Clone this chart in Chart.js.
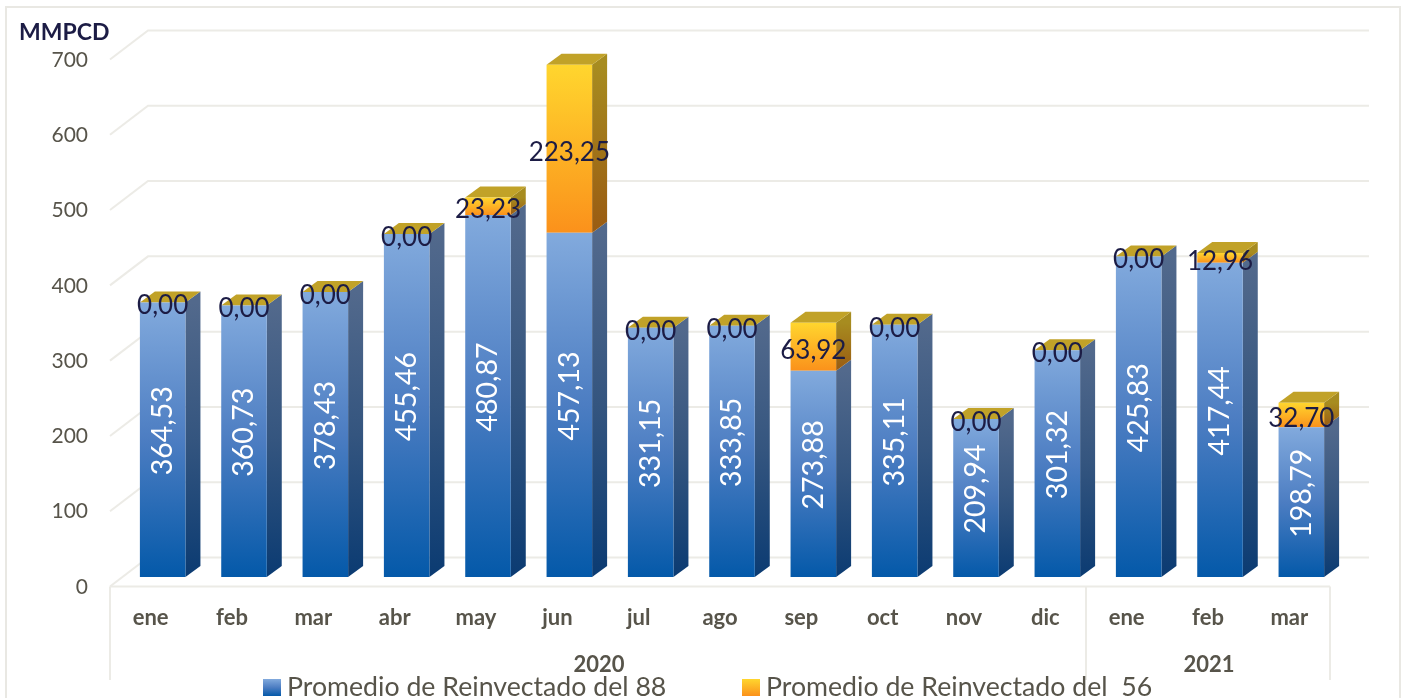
<!DOCTYPE html>
<html>
<head>
<meta charset="utf-8">
<style>html,body{margin:0;padding:0;background:#fff;overflow:hidden}canvas{display:block}</style>
<script src="https://cdn.jsdelivr.net/npm/chart.js@4"></script>
</head>
<body>
<canvas id="c" width="1405" height="698"></canvas>
<script>
const months = ['ene','feb','mar','abr','may','jun','jul','ago','sep','oct','nov','dic','ene','feb','mar'];
const yearLabels = ['2020','2021'];
const yearSpans = [12,3];
const promedio88 = [364.53,360.73,378.43,455.46,480.87,457.13,331.15,333.85,273.88,335.11,209.94,301.32,425.83,417.44,198.79];
const promedio56 = [0,0,0,0,23.23,223.25,0,0,63.92,0,0,0,0,12.96,32.70];
const seriesNames = ['Promedio de Reinvectado del 88','Promedio de Reinvectado del  56'];
const yTicks = [0,100,200,300,400,500,600,700];
const unitLabel = 'MMPCD';

const FONT = 'Lato, "Open Sans", sans-serif';
const GRID = '#ecebe6', AXISTXT = '#57544a', DARK = '#1c1c45';
const SHIFT_X = 12, SHIFT_Y = -10, DX = 15, DY = 11, WALL_X = 38, WALL_Y = 29;

function vGrad(ctx, top, bottom, stops){
  const g = ctx.createLinearGradient(0, top, 0, bottom);
  stops.forEach(s => g.addColorStop(s[0], s[1]));
  return g;
}
const BLUE = [[0,'#82aadd'],[0.5,'#4c7dc2'],[1,'#0459a9']];
const BLUE_SIDE = [[0,'#52698c'],[0.5,'#34557f'],[1,'#0b3b72']];
const GOLD = [[0,'#ffd62e'],[1,'#fb911b']];
const GOLD_SIDE = [[0,'#a78c20'],[1,'#9a5b12']];
const TOP = '#c1a228';

function barFill(stops){
  return function(c){
    const ch = c.chart;
    if (!ch.scales || !ch.scales.y || c.dataIndex === undefined) return stops[0][1];
    const y = ch.scales.y;
    const first = c.datasetIndex === 0;
    const lo = first ? 0 : promedio88[c.dataIndex];
    const hi = first ? promedio88[c.dataIndex] : promedio88[c.dataIndex] + promedio56[c.dataIndex];
    const t = y.getPixelForValue(hi), b = y.getPixelForValue(lo);
    if (!Number.isFinite(t) || !Number.isFinite(b) || b - t < 0.5) return stops[0][1];
    return vGrad(ch.ctx, t, b, stops);
  };
}
function poly(ctx, pts, fill){
  ctx.beginPath();
  pts.forEach((p,i)=> i ? ctx.lineTo(p[0],p[1]) : ctx.moveTo(p[0],p[1]));
  ctx.closePath();
  ctx.fillStyle = fill;
  ctx.fill();
}
const scene = {
  id:'scene',
  beforeDraw(ch){
    const ctx = ch.ctx, a = ch.chartArea, y = ch.scales.y;
    ctx.save();
    ctx.fillStyle = '#fff';
    ctx.fillRect(0,0,ch.width,ch.height);
    ctx.strokeStyle = '#e9e8e3';
    ctx.lineWidth = 2;
    ctx.beginPath();
    ctx.moveTo(6,698); ctx.lineTo(6,7); ctx.lineTo(1400,7); ctx.lineTo(1400,698);
    ctx.stroke();
    ctx.strokeStyle = GRID;
    ctx.lineWidth = 2;
    yTicks.forEach(t=>{
      const py = y.getPixelForValue(t) - 0.5;
      ctx.beginPath();
      ctx.moveTo(a.left, py);
      ctx.lineTo(a.left+WALL_X, py-WALL_Y);
      ctx.lineTo(a.right+WALL_X+1, py-WALL_Y);
      ctx.stroke();
    });
    // axis box with the year groups
    const x = ch.scales.x, step = x.getPixelForValue(1)-x.getPixelForValue(0);
    const base = y.getPixelForValue(0) - 0.5, bottom = 680;
    ctx.beginPath();
    ctx.moveTo(a.left,base); ctx.lineTo(a.right,base);
    ctx.moveTo(a.left,base); ctx.lineTo(a.left,bottom);
    let n = 0;
    yearSpans.forEach(s=>{
      n += s;
      const px = x.getPixelForValue(n-1)+step/2;
      ctx.moveTo(px,base); ctx.lineTo(px,bottom);
    });
    ctx.stroke();
    ctx.restore();
  },
  beforeDatasetsDraw(ch){
    const ctx = ch.ctx, y = ch.scales.y;
    ctx.save();
    ctx.translate(SHIFT_X, SHIFT_Y);
    const m0 = ch.getDatasetMeta(0).data;
    m0.forEach((b,i)=>{
      const r = b.x + b.width/2, l = b.x - b.width/2;
      const y0 = y.getPixelForValue(0), y1 = y.getPixelForValue(promedio88[i]);
      const y2 = y.getPixelForValue(promedio88[i]+promedio56[i]);
      poly(ctx,[[r,y0],[r+DX,y0-DY],[r+DX,y1-DY],[r,y1]], vGrad(ctx,y1,y0,BLUE_SIDE));
      if (promedio56[i] > 0)
        poly(ctx,[[r,y1],[r+DX,y1-DY],[r+DX,y2-DY],[r,y2]], vGrad(ctx,y2,y1,GOLD_SIDE));
      poly(ctx,[[l,y2],[l+DX,y2-DY],[r+DX,y2-DY],[r,y2]], TOP);
    });
    // the library draws the bars inside this same offset
  },
  afterDatasetsDraw(ch){
    const ctx = ch.ctx, y = ch.scales.y;
    ctx.restore();
    ctx.save();
    ctx.translate(SHIFT_X, SHIFT_Y);
    ctx.textAlign = 'center';
    ctx.textBaseline = 'middle';
    ch.getDatasetMeta(0).data.forEach((b,i)=>{
      const lo = y.getPixelForValue(0), hi = y.getPixelForValue(promedio88[i]);
      ctx.save();
      ctx.translate(b.x, (lo+hi)/2 - 9);
      ctx.rotate(-Math.PI/2);
      ctx.fillStyle = '#fff';
      ctx.font = '28.5px '+FONT;
      ctx.fillText(promedio88[i].toFixed(2).replace('.',','),0,0);
      ctx.restore();
    });
    ch.getDatasetMeta(1).data.forEach((b,i)=>{
      const lo = y.getPixelForValue(promedio88[i]), hi = y.getPixelForValue(promedio88[i]+promedio56[i]);
      ctx.fillStyle = DARK;
      ctx.font = '26px '+FONT;
      ctx.fillText(promedio56[i].toFixed(2).replace('.',','), b.x, (lo+hi)/2 + 3.5);
    });
    ctx.restore();
  },
  afterDraw(ch){
    const ctx = ch.ctx, x = ch.scales.x;
    ctx.save();
    // year labels
    ctx.fillStyle = AXISTXT;
    ctx.font = 'bold 22px '+FONT;
    ctx.textAlign = 'center';
    ctx.textBaseline = 'middle';
    let start = 0;
    yearLabels.forEach((lab,i)=>{
      const end = start + yearSpans[i] - 1;
      ctx.fillText(lab, (x.getPixelForValue(start)+x.getPixelForValue(end))/2 + 1, 665);
      start = end + 1;
    });
    // unit
    ctx.fillStyle = DARK;
    ctx.font = 'bold 23px '+FONT;
    ctx.textAlign = 'left';
    ctx.textBaseline = 'alphabetic';
    ctx.fillText(unitLabel, 19, 40);
    // legend
    ctx.font = '26.7px '+FONT;
    [[263,287,BLUE],[742,766,GOLD]].forEach((e,i)=>{
      ctx.fillStyle = vGrad(ctx,679,696,e[2]);
      ctx.fillRect(e[0],679,18,17);
      ctx.fillStyle = AXISTXT;
      ctx.fillText(seriesNames[i], e[1], 696);
    });
    ctx.restore();
  }
};

new Chart(document.getElementById('c'), {
  type:'bar',
  data:{
    labels:months,
    datasets:[
      {label:seriesNames[0], data:promedio88, backgroundColor:barFill(BLUE), barPercentage:0.56, categoryPercentage:1},
      {label:seriesNames[1], data:promedio56, backgroundColor:barFill(GOLD), barPercentage:0.56, categoryPercentage:1}
    ]
  },
  options:{
    responsive:false,
    animation:false,
    layout:{padding:{left:0,right:75,top:60,bottom:0}},
    plugins:{legend:{display:false},title:{display:false},tooltip:{enabled:false}},
    scales:{
      x:{
        stacked:true,
        grid:{display:false,drawTicks:false},
        border:{display:false},
        ticks:{padding:18,autoSkip:false,maxRotation:0,color:AXISTXT,font:{family:FONT,size:22,weight:'bold'}},
        afterFit(s){s.height=111;}
      },
      y:{
        stacked:true,
        min:0,max:700,
        grid:{display:false,drawTicks:false},
        border:{display:false},
        ticks:{stepSize:100,padding:22,color:AXISTXT,font:{family:FONT,size:21}},
        afterFit(s){s.width=110;}
      }
    }
  },
  plugins:[scene]
});
</script>
</body>
</html>
